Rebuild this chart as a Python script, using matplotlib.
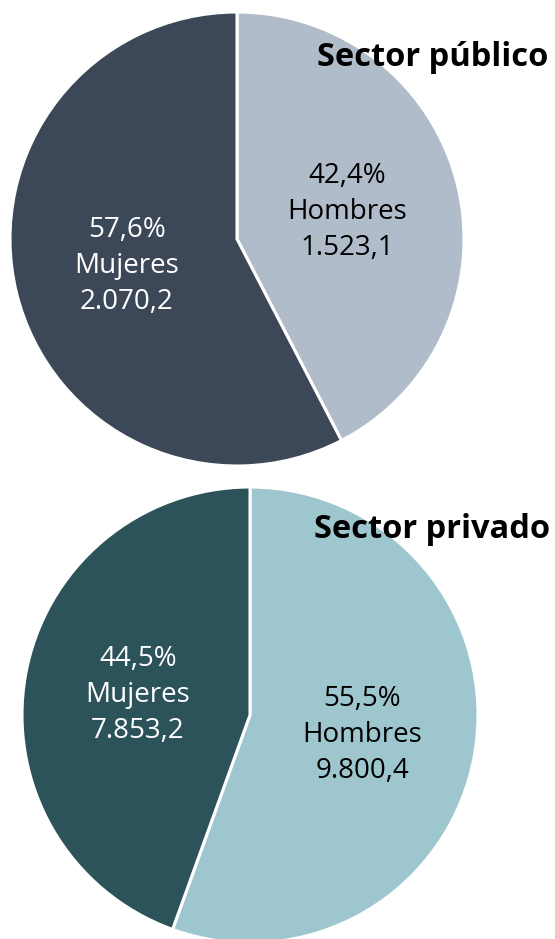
import numpy as np
import matplotlib.pyplot as plt

plt.rcParams['font.family'] = ['Open Sans', 'DejaVu Sans']

# datos (miles)
categorias = ['Hombres', 'Mujeres']
publico = [1523.1, 2070.2]
privado = [9800.4, 7853.2]
titulos = ['Sector público', 'Sector privado']
colores_pub = ['#b1bccb', '#3c4858']
colores_priv = ['#9dc6ce', '#2c535a']
color_texto = ['black', 'white']


def fmt_num(v):
    s = f'{v:,.1f}'
    return s.replace(',', 'X').replace('.', ',').replace('X', '.')


def etiquetas(vals):
    tot = sum(vals)
    out = []
    for c, v in zip(categorias, vals):
        p = f'{100 * v / tot:.1f}'.replace('.', ',')
        out.append(f'{p}%\n{c}\n{fmt_num(v)}')
    return out


W, H = 555, 939
fig = plt.figure(figsize=(W / 100, H / 100), dpi=100)

# (centro x, centro y, radio) en pixeles
pos = [(237, 239, 227), (250, 715, 228)]
datos = [publico, privado]
colores = [colores_pub, colores_priv]
tit_pos = [(548, 58), (550, 530)]

for i in range(2):
    cx, cy, r = pos[i]
    ax = fig.add_axes([(cx - r) / W, 1 - (cy + r) / H, 2 * r / W, 2 * r / H])
    wedges, texts = ax.pie(datos[i], colors=colores[i], startangle=90,
                           counterclock=False, labels=etiquetas(datos[i]),
                           labeldistance=0.5,
                           wedgeprops=dict(edgecolor='white', linewidth=2.2),
                           textprops=dict(ha='center', va='center', fontsize=20,
                                          linespacing=1.38))
    for t, c in zip(texts, color_texto):
        t.set_color(c)
    ax.set_xlim(-1, 1)
    ax.set_ylim(-1, 1)
    fig.text(tit_pos[i][0] / W, 1 - tit_pos[i][1] / H, titulos[i],
             ha='right', va='center', fontsize=23.5, fontweight='bold')

fig.savefig('out.png', dpi=100)
